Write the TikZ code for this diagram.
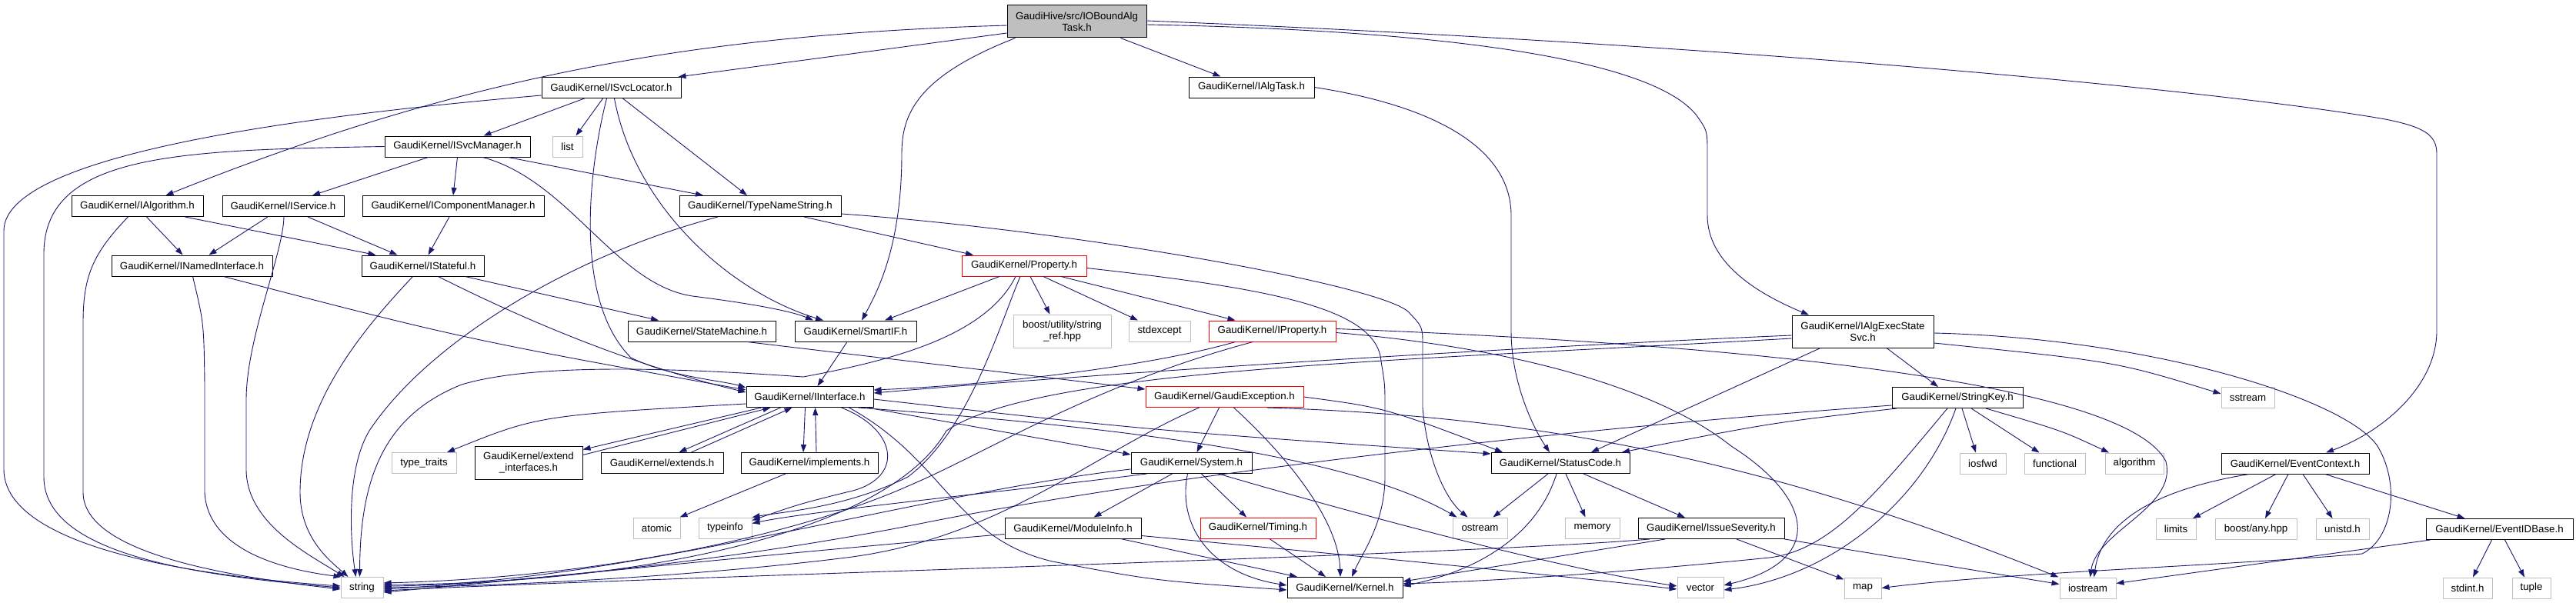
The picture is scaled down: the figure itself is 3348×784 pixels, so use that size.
\documentclass[tikz,border=0pt]{standalone}
\usepackage{fontspec}
\setmainfont{Liberation Sans}
\usepackage{xcolor}
\usetikzlibrary{arrows.meta}
\definecolor{edgeblue}{HTML}{191970}
\definecolor{boxgrey}{HTML}{BFBFBF}
\tikzset{
  hdr/.style={draw=black, line width=1pt, inner sep=0pt, minimum height=27pt, align=center, font=\fontsize{13.3}{15}\selectfont},
  syshdr/.style={hdr, draw=boxgrey},
  trunc/.style={hdr, draw=red},
  dep/.style={draw=edgeblue, line width=0.9pt, -{Triangle[length=10pt,width=7pt]}}
}
\begin{document}
\begin{tikzpicture}[x=1pt,y=-1pt]
    \fill[white] (0,0) rectangle (3348,784);
    \useasboundingbox (0,0) rectangle (3348,784);

    \node[hdr, fill=boxgrey, minimum width=181pt, minimum height=42pt] (main) at (1399.5,28) {GaudiHive/src/IOBoundAlg\\Task.h};
    \node[hdr, minimum width=181pt] (svcloc) at (794.5,114) {GaudiKernel/ISvcLocator.h};
    \node[hdr, minimum width=163pt] (algtask) at (1626.5,113.5) {GaudiKernel/IAlgTask.h};
    \node[hdr, minimum width=189pt] (svcmgr) at (594.5,190.5) {GaudiKernel/ISvcManager.h};
    \node[syshdr, minimum width=39pt] (list) at (737.5,190.5) {list};
    \node[hdr, minimum width=171pt] (ialg) at (178.5,268) {GaudiKernel/IAlgorithm.h};
    \node[hdr, minimum width=158pt] (iservice) at (368,268) {GaudiKernel/IService.h};
    \node[hdr, minimum width=236pt] (compmgr) at (589,268) {GaudiKernel/IComponentManager.h};
    \node[hdr, minimum width=210pt] (typename) at (988,268) {GaudiKernel/TypeNameString.h};
    \node[hdr, minimum width=209pt] (named) at (249.5,345.5) {GaudiKernel/INamedInterface.h};
    \node[hdr, minimum width=159pt] (stateful) at (549.5,345.5) {GaudiKernel/IStateful.h};
    \node[trunc, minimum width=162pt] (property) at (1331,345.5) {GaudiKernel/Property.h};
    \node[hdr, minimum width=192pt] (statemachine) at (912,430.5) {GaudiKernel/StateMachine.h};
    \node[hdr, minimum width=158pt] (smartif) at (1112,430.5) {GaudiKernel/SmartIF.h};
    \node[syshdr, minimum width=127pt, minimum height=43pt] (stringref) at (1380.5,430.5) {boost/utility/string\\\_ref.hpp};
    \node[syshdr, minimum width=80pt] (stdexcept) at (1507,430.5) {stdexcept};
    \node[trunc, minimum width=165pt] (iproperty) at (1653.5,430.5) {GaudiKernel/IProperty.h};
    \node[hdr, minimum width=184pt, minimum height=42pt] (algexec) at (2421,431) {GaudiKernel/IAlgExecState\\Svc.h};
    \node[hdr, minimum width=165pt] (iinterface) at (1052.5,516) {GaudiKernel/IInterface.h};
    \node[trunc, minimum width=205pt] (gaudiexc) at (1591.5,516) {GaudiKernel/GaudiException.h};
    \node[hdr, minimum width=170pt] (stringkey) at (2544,517) {GaudiKernel/StringKey.h};
    \node[syshdr, minimum width=69pt] (sstream) at (2921.5,517) {sstream};
    \node[syshdr, minimum width=84pt] (typetraits) at (551,602) {type\_traits};
    \node[hdr, minimum width=140pt, minimum height=43pt] (extendif) at (687,601.5) {GaudiKernel/extend\\\_interfaces.h};
    \node[hdr, minimum width=159pt] (extends) at (860.5,602) {GaudiKernel/extends.h};
    \node[hdr, minimum width=178pt] (implements) at (1052,602) {GaudiKernel/implements.h};
    \node[hdr, minimum width=157pt] (system) at (1548.5,602) {GaudiKernel/System.h};
    \node[hdr, minimum width=180pt] (statuscode) at (2028,602) {GaudiKernel/StatusCode.h};
    \node[syshdr, minimum width=60pt] (iosfwd) at (2577,602.5) {iosfwd};
    \node[syshdr, minimum width=79pt] (functional) at (2670.5,602.5) {functional};
    \node[syshdr, minimum width=76pt] (algorithm) at (2774,602.5) {algorithm};
    \node[hdr, minimum width=192pt] (eventctx) at (2983,602.5) {GaudiKernel/EventContext.h};
    \node[syshdr, minimum width=61pt] (atomic) at (853.5,686.5) {atomic};
    \node[syshdr, minimum width=69pt] (typeinfo) at (942.5,686.5) {typeinfo};
    \node[hdr, minimum width=177pt] (moduleinfo) at (1394.5,686.5) {GaudiKernel/ModuleInfo.h};
    \node[trunc, minimum width=150pt] (timing) at (1635,686.5) {GaudiKernel/Timing.h};
    \node[syshdr, minimum width=71pt] (ostream) at (1923.5,686.5) {ostream};
    \node[syshdr, minimum width=71pt] (memory) at (2069.5,686.5) {memory};
    \node[hdr, minimum width=190pt] (issue) at (2224,687) {GaudiKernel/IssueSeverity.h};
    \node[syshdr, minimum width=52pt] (limits) at (2828,688) {limits};
    \node[syshdr, minimum width=106pt] (anyhpp) at (2932,688) {boost/any.hpp};
    \node[syshdr, minimum width=69pt] (unistd) at (3044.5,688) {unistd.h};
    \node[hdr, minimum width=191pt] (eventid) at (3248.5,688) {GaudiKernel/EventIDBase.h};
    \node[syshdr, minimum width=55pt] (string) at (470.5,764) {string};
    \node[hdr, minimum width=150pt] (kernel) at (1748,764) {GaudiKernel/Kernel.h};
    \node[syshdr, minimum width=60pt] (vector) at (2210,764) {vector};
    \node[syshdr, minimum width=48pt] (map) at (2421,764.5) {map};
    \node[syshdr, minimum width=73pt] (iostream) at (2713.5,764.5) {iostream};
    \node[syshdr, minimum width=64pt] (stdint) at (3207,764.5) {stdint.h};
    \node[syshdr, minimum width=50pt] (tuple) at (3290,764.5) {tuple};

    \draw[dep] ([yshift=-15pt]main.west) .. controls (1100,70) .. ([xshift=-4pt]svcloc.north east);
    \draw[dep] ([yshift=-5pt]main.west) .. controls (900,45) and (600,100) .. ([xshift=37pt]ialg.north);
    \draw[dep] ([xshift=-80pt]main.south) .. controls (1190,100) and (1172,150) .. (1172,200) .. controls (1172,320) and (1140,380) .. ([xshift=8pt]smartif.north);
    \draw[dep] ([xshift=57pt]main.south) -- ([xshift=-40pt]algtask.north);
    \draw[dep] ([yshift=-4pt]main.east) .. controls (1900,40) and (2150,80) .. (2205,150) .. controls (2219,170) .. (2219,200) -- (2219,280) .. controls (2219,340) and (2280,380) .. ([xshift=-70pt]algexec.north);
    \draw[dep] ([yshift=1pt]main.east) .. controls (2300,60) and (2900,120) .. (3100,155) .. controls (3150,165) and (3167,175) .. (3167,200) -- (3167,430) .. controls (3167,500) and (3100,560) .. ([xshift=40pt]eventctx.north);

    \draw[dep] ([yshift=-10pt]svcloc.west) .. controls (400,150) and (5,200) .. (5,300) -- (5,610) .. controls (5,700) and (200,745) .. ([yshift=2pt]string.west);
    \draw[dep] ([xshift=-35pt]svcloc.south) -- ([xshift=34pt]svcmgr.north);
    \draw[dep] ([xshift=-11pt]svcloc.south) -- ([xshift=11pt]list.north);
    \draw[dep] ([xshift=-6pt]svcloc.south) .. controls (765,220) and (745,390) .. (820,465) .. controls (870,490) and (940,495) .. ([yshift=-2pt]iinterface.north west);
    \draw[dep] ([xshift=4pt]svcloc.south) .. controls (825,270) and (950,380) .. ([xshift=-42pt]smartif.north);
    \draw[dep] ([xshift=15pt]svcloc.south) -- ([xshift=-17pt]typename.north);

    \draw[dep] (algtask.east) .. controls (1880,140) and (1964,200) .. (1964,280) -- (1964,430) .. controls (1964,500) and (1995,560) .. ([xshift=-14pt]statuscode.north);

    \draw[dep] (svcmgr.west) .. controls (230,195) and (57,200) .. (57,330) -- (57,620) .. controls (57,720) and (250,748) .. (string.west);
    \draw[dep] ([xshift=-38pt]svcmgr.south) -- ([xshift=38pt]iservice.north);
    \draw[dep] (svcmgr.south) -- (compmgr.north);
    \draw[dep] ([xshift=33pt]svcmgr.south) .. controls (740,235) and (800,370) .. (900,385) .. controls (980,395) and (1030,405) .. ([xshift=-55pt]smartif.north);
    \draw[dep] ([xshift=66pt]svcmgr.south) -- ([xshift=-74pt]typename.north);

    \draw[dep] ([xshift=-12pt]ialg.south) .. controls (120,330) and (108,360) .. (108,420) -- (108,640) .. controls (108,720) and (300,750) .. ([yshift=-2pt]string.west);
    \draw[dep] ([xshift=12pt]ialg.south) -- ([xshift=-12pt]named.north);
    \draw[dep] ([xshift=62pt]ialg.south) -- ([xshift=-61pt]stateful.north);

    \draw[dep] ([xshift=-20pt]iservice.south) -- ([xshift=22pt]named.north);
    \draw[dep] ([xshift=1pt]iservice.south) .. controls (368,330) and (320,440) .. (320,520) -- (320,610) .. controls (320,680) and (400,720) .. ([xshift=5pt]string.north west);
    \draw[dep] ([xshift=32pt]iservice.south) -- ([xshift=-33pt]stateful.north);

    \draw[dep] ([xshift=-5pt]compmgr.south) -- ([xshift=7pt]stateful.north);

    \draw[dep] ([xshift=-55pt]typename.south) .. controls (750,330) and (560,440) .. (480,560) .. controls (450,610) and (455,700) .. ([xshift=-8pt]string.north);
    \draw[dep] ([xshift=57pt]typename.south) -- ([xshift=-66pt]property.north);
    \draw[dep] ([yshift=-10pt]typename.east) .. controls (1400,300) and (1790,370) .. (1830,405) .. controls (1849,425) .. (1849,450) -- (1849,530) .. controls (1855,600) and (1880,650) .. ([xshift=-16pt]ostream.north);

    \draw[dep] ([xshift=41pt]named.south) .. controls (600,440) .. ([yshift=-5pt]iinterface.north west);
    \draw[dep] ([xshift=1pt]named.south) .. controls (265,420) .. (266,500) -- (266,640) .. controls (270,720) and (380,742) .. ([xshift=1pt]string.north west);

    \draw[dep] ([xshift=-13pt]stateful.south) .. controls (480,420) and (390,520) .. (390,640) .. controls (390,700) and (430,730) .. ([xshift=10pt]string.north west);
    \draw[dep] ([xshift=20pt]stateful.south) .. controls (650,400) and (800,470) .. ([yshift=-8pt]iinterface.north west);
    \draw[dep] ([xshift=55pt]stateful.south) -- ([xshift=-56pt]statemachine.north);

    \draw[dep] ([xshift=-32pt]property.south) -- ([xshift=38pt]smartif.north);
    \draw[dep] ([xshift=-11pt]property.south) .. controls (1280,440) and (1150,470) .. (1044,490) .. controls (900,480) and (700,470) .. (600,500) .. controls (500,540) and (468,620) .. ([xshift=-3pt]string.north);
    \draw[dep] ([xshift=-5pt]property.south) .. controls (1300,420) and (1260,560) .. (1180,620) .. controls (1100,660) and (1020,665) .. (typeinfo.north east);
    \draw[dep] ([xshift=8pt]property.south) -- ([xshift=-16pt]stringref.north);
    \draw[dep] ([xshift=25pt]property.south) -- ([xshift=-28pt]stdexcept.north);
    \draw[dep] ([xshift=48pt]property.south) -- ([xshift=-48pt]iproperty.north);
    \draw[dep] ([yshift=-3pt]property.east) .. controls (1650,375) and (1790,400) .. (1795,470) .. controls (1800,500) .. (1800,530) -- (1800,620) .. controls (1800,680) and (1770,720) .. ([xshift=9pt]kernel.north);

    \draw[dep] ([xshift=59pt]statemachine.south) -- ([yshift=-4pt]gaudiexc.north west);
    \draw[dep] ([xshift=-11pt]smartif.south) -- ([xshift=10pt]iinterface.north);

    \draw[dep] ([xshift=-48pt]iproperty.south) .. controls (1500,475) and (1300,500) .. ([yshift=-5pt]iinterface.north east);
    \draw[dep] ([xshift=-25pt]iproperty.south) .. controls (1420,500) and (1280,590) .. (1180,632) .. controls (1050,690) and (800,750) .. ([yshift=6pt]string.east);
    \draw[dep] ([yshift=-2pt]iproperty.east) .. controls (1950,450) and (2150,500) .. (2250,580) .. controls (2360,650) and (2370,730) .. ([yshift=3pt]vector.east);
    \draw[dep] ([yshift=3pt]iproperty.east) .. controls (2200,445) and (2760,490) .. (2815,600) .. controls (2830,660) and (2725,690) .. ([xshift=3pt]iostream.north);

    \draw[dep] ([yshift=-5pt]algexec.west) .. controls (2000,450) and (1500,480) .. ([yshift=-9pt]iinterface.north east);
    \draw[dep] ([yshift=-9pt]algexec.west) .. controls (1800,470) and (1350,480) .. (1230,560) .. controls (1150,700) and (800,760) .. ([yshift=4pt]string.east);
    \draw[dep] ([xshift=-55pt]algexec.south) -- ([xshift=40pt]statuscode.north);
    \draw[dep] ([xshift=31pt]algexec.south) -- ([xshift=-25pt]stringkey.north);
    \draw[dep] ([yshift=-15pt]algexec.east) .. controls (2750,470) .. ([yshift=5pt]sstream.west);
    \draw[dep] ([yshift=-2pt]algexec.east) .. controls (2800,440) and (3050,520) .. (3090,580) .. controls (3120,630) and (3110,700) .. (3070,720) .. controls (2900,735) and (2600,745) .. (map.east);

    \draw[dep] ([yshift=-10pt]stringkey.west) .. controls (2000,560) and (1500,620) .. (1200,680) .. controls (900,740) and (600,760) .. ([yshift=-2pt]string.east);
    \draw[dep] ([xshift=-79pt]stringkey.south) .. controls (2300,550) .. ([xshift=80pt]statuscode.north);
    \draw[dep] ([xshift=-13pt]stringkey.south) .. controls (2440,640) and (2380,715) .. (2300,725) .. controls (2100,745) and (1950,755) .. ([yshift=5pt]kernel.east);
    \draw[dep] ([xshift=-2pt]stringkey.south) .. controls (2500,650) and (2380,750) .. ([yshift=-3pt]vector.east);
    \draw[dep] ([xshift=6pt]stringkey.south) -- ([xshift=-9pt]iosfwd.north);
    \draw[dep] ([xshift=18pt]stringkey.south) -- ([xshift=-20pt]functional.north);
    \draw[dep] ([xshift=37pt]stringkey.south) .. controls (2680,560) .. ([xshift=-33pt]algorithm.north);

    \draw[dep] ([xshift=-60pt]eventctx.south) .. controls (2780,640) and (2730,690) .. ([xshift=8pt]iostream.north);
    \draw[dep] ([xshift=-25pt]eventctx.south) -- ([xshift=22pt]limits.north);
    \draw[dep] ([xshift=-9pt]eventctx.south) -- ([xshift=12pt]anyhpp.north);
    \draw[dep] ([xshift=10pt]eventctx.south) -- ([xshift=-13pt]unistd.north);
    \draw[dep] ([xshift=39pt]eventctx.south) -- ([xshift=-45pt]eventid.north);

    \draw[dep] ([xshift=-90pt]eventid.south) -- ([yshift=6pt]iostream.east);
    \draw[dep] ([xshift=-10pt]eventid.south) -- ([xshift=7pt]stdint.north);
    \draw[dep] ([xshift=7pt]eventid.south) -- ([xshift=-9pt]tuple.north);

    \draw[dep] ([yshift=-9pt]iinterface.west) .. controls (700,540) .. ([xshift=30pt]typetraits.north);
    \draw[dep] ([xshift=20pt]iinterface.south west) -- ([yshift=-5pt]extendif.north east);
    \draw[dep] ([yshift=-12pt]extendif.north east) -- ([xshift=32pt]iinterface.south west);
    \draw[dep] ([xshift=45pt]iinterface.south west) -- ([xshift=22pt]extends.north);
    \draw[dep] ([xshift=38pt]extends.north) -- ([xshift=60pt]iinterface.south west);
    \draw[dep] ([xshift=-6pt]iinterface.south) -- ([xshift=-8pt]implements.north);
    \draw[dep] ([xshift=9pt]implements.north) -- ([xshift=7pt]iinterface.south);
    \draw[dep] ([xshift=-8pt]iinterface.south east) -- ([yshift=-3pt]system.north west);
    \draw[dep] ([yshift=-3pt]iinterface.east) .. controls (1500,560) .. ([yshift=-2pt]statuscode.north west);
    \draw[dep] ([xshift=-20pt]iinterface.south east) .. controls (1450,555) and (1750,590) .. ([xshift=-30pt]ostream.north);
    \draw[dep] ([xshift=-32pt]iinterface.south east) .. controls (1230,600) and (1240,700) .. (1368,730) .. controls (1500,755) .. ([yshift=-3pt]kernel.west);
    \draw[dep] ([xshift=-42pt]iinterface.south east) .. controls (1170,560) and (1175,625) .. (1100,640) .. controls (1040,655) .. ([yshift=-4pt]typeinfo.north east);

    \draw[dep] ([xshift=-31pt]implements.south) -- ([xshift=30pt]atomic.north);

    \draw[dep] ([xshift=-7pt]gaudiexc.south) -- ([xshift=7pt]system.north);
    \draw[dep] ([xshift=-33pt]gaudiexc.south) .. controls (1420,590) and (1300,700) .. (1100,725) .. controls (900,750) and (650,762) .. (string.east);
    \draw[dep] ([xshift=12pt]gaudiexc.south) .. controls (1680,600) and (1740,680) .. ([xshift=-6pt]kernel.north);
    \draw[dep] (gaudiexc.east) .. controls (1800,530) .. ([xshift=-75pt]statuscode.north);
    \draw[dep] ([xshift=55pt]gaudiexc.south) .. controls (1950,540) and (2250,580) .. ([xshift=-38pt]iostream.north);

    \draw[dep] ([xshift=-25pt]system.south) -- ([xshift=27pt]moduleinfo.north);
    \draw[dep] ([xshift=13pt]system.south) -- ([xshift=-15pt]timing.north);
    \draw[dep] ([xshift=-5pt]system.south) .. controls (1530,680) and (1570,745) .. ([yshift=3pt]kernel.west);
    \draw[dep] ([xshift=-58pt]system.south) .. controls (1300,640) and (1050,665) .. ([yshift=-8pt]typeinfo.north east);
    \draw[dep] ([yshift=-8pt]system.west) .. controls (1200,640) and (800,760) .. ([yshift=2pt]string.east);
    \draw[dep] ([xshift=35pt]system.south) .. controls (1700,650) and (2000,735) .. ([yshift=2pt]vector.west);

    \draw[dep] ([yshift=-8pt]moduleinfo.west) .. controls (1000,720) and (700,752) .. ([yshift=-6pt]string.east);
    \draw[dep] ([xshift=62pt]moduleinfo.south) -- ([xshift=-62pt]kernel.north);
    \draw[dep] ([yshift=-10pt]moduleinfo.east) .. controls (1650,712) and (2000,745) .. ([yshift=-2pt]vector.west);

    \draw[dep] ([xshift=15pt]timing.south) -- ([xshift=-25pt]kernel.north);

    \draw[dep] ([xshift=-16pt]statuscode.south) -- ([xshift=17pt]ostream.north);
    \draw[dep] ([xshift=-5pt]statuscode.south) .. controls (2000,690) and (1930,740) .. ([yshift=2pt]kernel.east);
    \draw[dep] ([xshift=7pt]statuscode.south) -- ([xshift=-9pt]memory.north);
    \draw[dep] ([xshift=30pt]statuscode.south) -- ([xshift=-34pt]issue.north);

    \draw[dep] ([xshift=-80pt]issue.south) .. controls (1900,722) and (800,752) .. ([yshift=-4pt]string.east);
    \draw[dep] ([xshift=-60pt]issue.south) -- ([yshift=8pt]kernel.east);
    \draw[dep] ([xshift=33pt]issue.south) -- ([yshift=-3pt]map.north west);
    \draw[dep] (issue.south east) -- ([yshift=5pt]iostream.west);
\end{tikzpicture}
\end{document}
